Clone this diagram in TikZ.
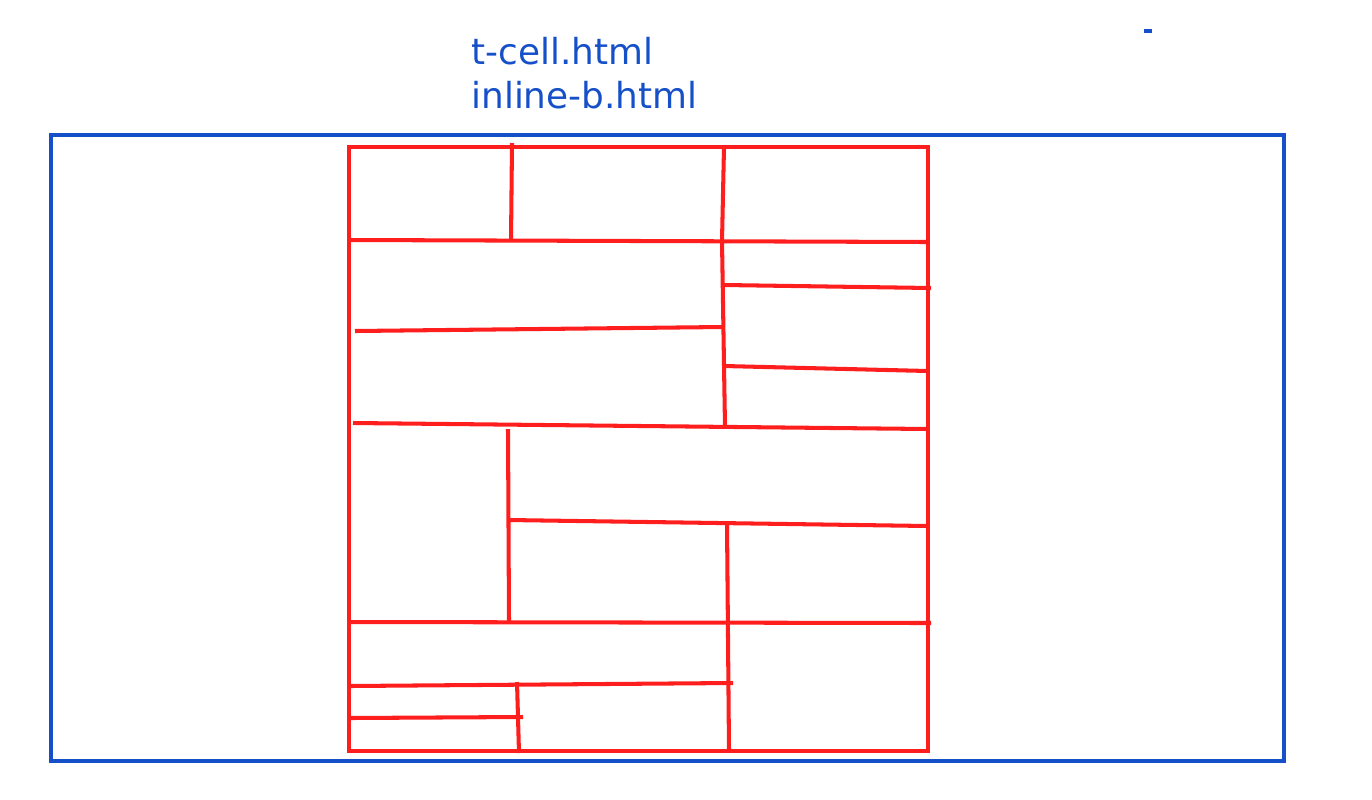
\documentclass[tikz,border=0pt]{standalone}
\usepackage{fontspec}
\setmainfont{DejaVu Sans}
\definecolor{frameblue}{RGB}{22,80,200}
\definecolor{cellred}{RGB}{255,30,30}

\begin{document}
\begin{tikzpicture}[x=0.02cm, y=-0.02cm]
    \tikzset{
      outer/.style={draw=frameblue, line width=2.3pt},
      cell/.style={draw=cellred, line width=2.3pt},
      label/.style={text=frameblue, font=\fontsize{20.4}{25}\selectfont, inner sep=0pt, anchor=base west}
    }
    \useasboundingbox (0,0) rectangle (1372,799);

    \node[label] (file1) at (471,64) {t-cell.html};
    \node[label] (file2) at (471,108) {inline-b.html};
    \fill[frameblue] (1144,29) rectangle (1152,33);

    \draw[outer] (51,135) rectangle (1284,761);
    \draw[cell] (349,147) rectangle (928,751);

    % upper part
    \draw[cell] (512,143) -- (511,241);
    \draw[cell] (724,147) -- (722,241) -- (725,427);
    \draw[cell] (349,240) -- (928,242);
    \draw[cell] (724,285) -- (931,288);
    \draw[cell] (355,331) -- (723,327);
    \draw[cell] (724,366) -- (928,371);
    \draw[cell] (353,423) -- (928,429);

    % middle part
    \draw[cell] (508,429) -- (509,622);
    \draw[cell] (508,520) -- (928,526);
    \draw[cell] (727,523) -- (729,751);
    \draw[cell] (349,622) -- (931,623);

    % lower part
    \draw[cell] (349,686) -- (733,683);
    \draw[cell] (517,682) -- (519,753);
    \draw[cell] (349,718) -- (523,717);
  \end{tikzpicture}
\end{document}
